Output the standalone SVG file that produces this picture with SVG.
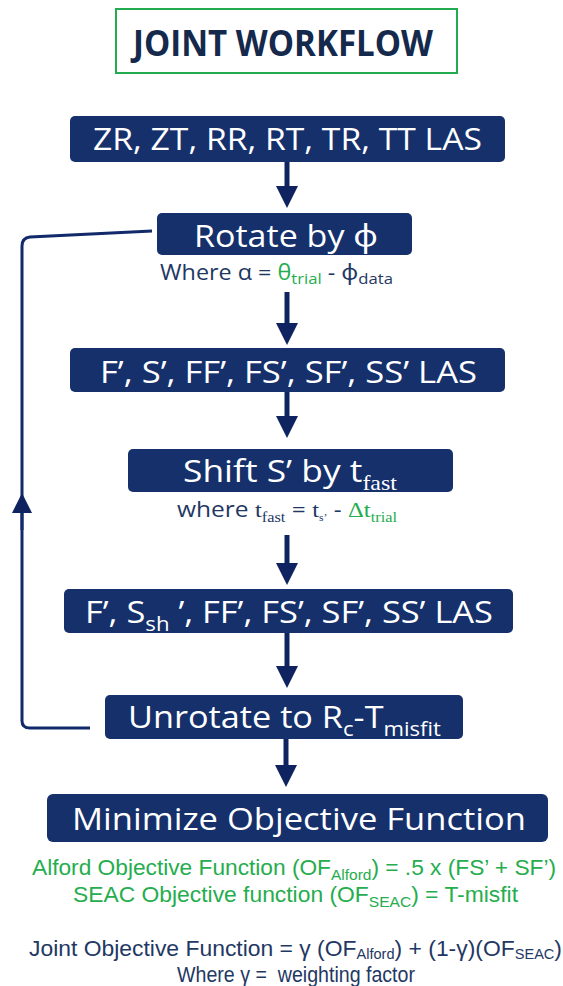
<svg xmlns="http://www.w3.org/2000/svg" width="563" height="986" viewBox="0 0 563 986">
<style>
.box{fill:#15306b;}
.bt{font-family:"Open Sans","Noto Sans","DejaVu Sans",sans-serif;fill:#ffffff;font-size:31px;}
.conn{stroke:#0f2360;stroke-width:5;fill:none;}
.loop{stroke:#12296a;stroke-width:3;fill:none;}
.note{font-family:"Open Sans","Noto Sans","DejaVu Sans",sans-serif;font-size:21px;fill:#1f3864;}
.arial{font-family:"Liberation Sans",Arial,sans-serif;font-size:22px;}
.green{fill:#25ad4e;}
.navy{fill:#1f3864;}
.serif{font-family:"Liberation Serif","Times New Roman",serif;}
</style>
<defs>
<marker id="ah" markerUnits="userSpaceOnUse" markerWidth="22" markerHeight="22" refX="0" refY="11" orient="auto" viewBox="0 0 22 22"><path d="M0,0 L22,11 L0,22 z" fill="#0f2360"/></marker>
<marker id="ah2" markerUnits="userSpaceOnUse" markerWidth="20" markerHeight="20" refX="0" refY="10" orient="auto" viewBox="0 0 20 20"><path d="M0,0 L20,10 L0,20 z" fill="#0f2360"/></marker>
</defs>

<g id="title">
<rect x="116" y="9" width="341" height="64" fill="#ffffff" stroke="#22ac4f" stroke-width="2"/>
<text x="133" y="56" font-family="'Open Sans','Noto Sans',sans-serif" font-weight="bold" font-size="35" fill="#14294b" textLength="300" lengthAdjust="spacingAndGlyphs">JOINT WORKFLOW</text>
</g>

<g id="connectors">
<path class="conn" d="M287,162 V186" marker-end="url(#ah)"/>
<path class="conn" d="M287,292 V323" marker-end="url(#ah)"/>
<path class="conn" d="M287,392 V416" marker-end="url(#ah)"/>
<path class="conn" d="M287,535 V563" marker-end="url(#ah)"/>
<path class="conn" d="M287,633 V666" marker-end="url(#ah)"/>
<path class="conn" d="M286,739 V765" marker-end="url(#ah)"/>
<path class="loop" d="M152,231 L30,237 Q22,238 22,246 L22,721 Q22,728 30,728 L90,728"/>
<path class="loop" d="M22,530 V513" marker-end="url(#ah2)"/>
</g>

<g id="n1">
<rect class="box" x="70" y="116" width="435" height="46" rx="5"/>
<text class="bt" x="93" y="150" textLength="389" lengthAdjust="spacingAndGlyphs">ZR, ZT, RR, RT, TR, TT LAS</text>
</g>

<g id="n2">
<rect class="box" x="157" y="213" width="255" height="42" rx="5"/>
<text class="bt" x="194" y="247" textLength="184" lengthAdjust="spacingAndGlyphs">Rotate by ϕ</text>
<text class="note" x="160" y="280" textLength="233" lengthAdjust="spacingAndGlyphs">Where α = <tspan class="green">θ</tspan><tspan class="green" font-size="15" dy="4">trial</tspan><tspan dy="-4"> - ϕ</tspan><tspan font-size="15" dy="4">data</tspan></text>
</g>

<g id="n3">
<rect class="box" x="70" y="348" width="435" height="44" rx="5"/>
<text class="bt" x="100" y="383" textLength="377" lengthAdjust="spacingAndGlyphs">F’, S’, FF’, FS’, SF’, SS’ LAS</text>
</g>

<g id="n4">
<rect class="box" x="128" y="449" width="325" height="43" rx="5"/>
<text class="bt" x="183" y="482" textLength="214" lengthAdjust="spacingAndGlyphs">Shift S’ by t<tspan class="serif" font-size="21" dy="8">fast</tspan></text>
<text class="note" x="177" y="517" font-size="19" textLength="220" lengthAdjust="spacingAndGlyphs">where <tspan class="serif">t</tspan><tspan class="serif" font-size="14" dy="5">fast</tspan><tspan dy="-5"> = </tspan><tspan class="serif">t</tspan><tspan class="serif" font-size="10" dy="4">s’</tspan><tspan dy="-4"> - </tspan><tspan class="serif green">Δt</tspan><tspan class="serif green" font-size="14" dy="5">trial</tspan></text>
</g>

<g id="n5">
<rect class="box" x="64" y="589" width="449" height="44" rx="5"/>
<text class="bt" x="85" y="623" textLength="408" lengthAdjust="spacingAndGlyphs">F’, S<tspan font-size="20" dy="8">sh</tspan><tspan dy="-8"> ’, FF’, FS’, SF’, SS’ LAS</tspan></text>
</g>

<g id="n6">
<rect class="box" x="105" y="695" width="358" height="44" rx="5"/>
<text class="bt" x="128" y="728" textLength="313" lengthAdjust="spacingAndGlyphs">Unrotate to R<tspan font-size="20" dy="8">c</tspan><tspan dy="-8">-T</tspan><tspan font-size="20" dy="8">misfit</tspan></text>
</g>

<g id="n7">
<rect class="box" x="47" y="794" width="501" height="48" rx="6"/>
<text class="bt" x="72" y="830" font-size="32" textLength="454" lengthAdjust="spacingAndGlyphs">Minimize Objective Function</text>
</g>

<g id="objective-notes">
<text class="arial green" x="32" y="875" textLength="524" lengthAdjust="spacingAndGlyphs">Alford Objective Function (OF<tspan font-size="15" dy="5">Alford</tspan><tspan dy="-5">) = .5 x (FS’ + SF’)</tspan></text>
<text class="arial green" x="73" y="902" textLength="445" lengthAdjust="spacingAndGlyphs">SEAC Objective function (OF<tspan font-size="15" dy="5">SEAC</tspan><tspan dy="-5">) = T-misfit</tspan></text>
<text class="arial navy" x="29" y="956" textLength="533" lengthAdjust="spacingAndGlyphs">Joint Objective Function = γ (OF<tspan font-size="14" dy="3">Alford</tspan><tspan dy="-3">) + (1-γ)(OF</tspan><tspan font-size="14" dy="3">SEAC</tspan><tspan dy="-3">)</tspan></text>
<text class="arial navy" x="177" y="982" font-size="17" textLength="238" lengthAdjust="spacingAndGlyphs" xml:space="preserve">Where γ =  weighting factor</text>
</g>
</svg>
